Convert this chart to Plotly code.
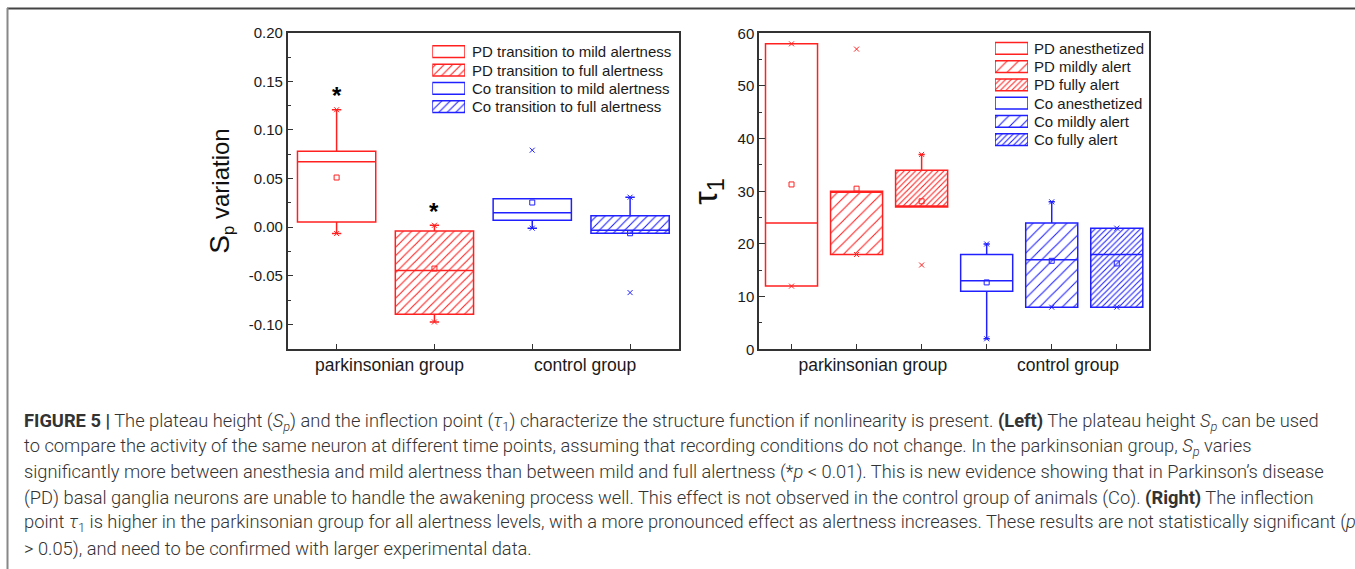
import plotly.graph_objects as go

W, H = 1355, 569
FONT = "Arial, Liberation Sans, sans-serif"

# ---------------- Left panel: S_p variation ----------------
sp_pos = [1, 2, 3, 4]
sp_names = ["PD transition to mild alertness", "PD transition to full alertness",
            "Co transition to mild alertness", "Co transition to full alertness"]
sp_colors = ["#ff2020", "#ff2020", "#2020ff", "#2020ff"]
sp_hatch = ["", "/", "", "/"]
sp_hatch_size = [6, 6, 6, 6]
sp_q1 = [0.0055, -0.0895, 0.0072, -0.0062]
sp_median = [0.0672, -0.0446, 0.0148, -0.0031]
sp_q3 = [0.0782, -0.0038, 0.0292, 0.0117]
sp_lower = [-0.0065, -0.0974, -0.0010, -0.0062]
sp_upper = [0.1208, 0.0020, 0.0292, 0.0309]
sp_mean = [0.0511, -0.0425, 0.0254, -0.0062]
sp_max = [0.1208, 0.0020, 0.0792, 0.0309]
sp_min = [-0.0065, -0.0974, -0.0010, -0.0672]
sp_star = [True, True, False, False]
sp_group_pos = [1.54, 3.54]
sp_group_labels = ["parkinsonian group", "control group"]
sp_ytick_vals = [-0.10, -0.05, 0.00, 0.05, 0.10, 0.15, 0.20]
sp_ytick_text = ["-0.10", "-0.05", "0.00", "0.05", "0.10", "0.15", "0.20"]

# ---------------- Right panel: tau_1 ----------------
tau_pos = [1, 2, 3, 4, 5, 6]
tau_names = ["PD anesthetized", "PD mildly alert", "PD fully alert",
             "Co anesthetized", "Co mildly alert", "Co fully alert"]
tau_colors = ["#ff2020", "#ff2020", "#ff2020", "#2020ff", "#2020ff", "#2020ff"]
tau_hatch = ["", "/", "/", "", "/", "/"]
tau_hatch_size = [8, 8, 4, 8, 8, 4]
tau_q1 = [12, 18, 27, 11, 8, 8]
tau_median = [24, 30, 27, 13, 17, 18]
tau_q3 = [58, 30, 34, 18, 24, 23]
tau_lower = [12, 18, 27, 2, 8, 8]
tau_upper = [58, 30, 37, 20, 28, 23]
tau_mean = [31.3, 30.5, 28.1, 12.7, 16.8, 16.3]
tau_max = [58, 57, 37, 20, 28, 23]
tau_min = [12, 18, 16, 2, 8, 8]
tau_group_pos = [2.25, 5.25]
tau_group_labels = ["parkinsonian group", "control group"]
tau_ytick_vals = [0, 10, 20, 30, 40, 50, 60]

caption_lines = [
    "<b>FIGURE 5 |</b> The plateau height (<i>S<sub>p</sub></i>) and the inflection point (<i>τ</i><sub>1</sub>) "
    "characterize the structure function if nonlinearity is present. <b>(Left)</b> The plateau height "
    "<i>S<sub>p</sub></i> can be used",
    "to compare the activity of the same neuron at different time points, assuming that recording conditions "
    "do not change. In the parkinsonian group, <i>S<sub>p</sub></i> varies",
    "significantly more between anesthesia and mild alertness than between mild and full alertness "
    "(*<i>p</i> &lt; 0.01). This is new evidence showing that in Parkinson’s disease",
    "(PD) basal ganglia neurons are unable to handle the awakening process well. This effect is not observed "
    "in the control group of animals (Co). <b>(Right)</b> The inflection",
    "point <i>τ</i><sub>1</sub> is higher in the parkinsonian group for all alertness levels, with a more "
    "pronounced effect as alertness increases. These results are not statistically significant (<i>p</i>",
    "&gt; 0.05), and need to be confirmed with larger experimental data.",
]


def px_x(x):
    return x / W


def px_y(y):
    return 1 - y / H


def pattern_for(color, shape, size):
    if not shape:
        return dict(shape="")
    return dict(shape=shape, size=size, solidity=min(0.35, 1.1 / size),
                fgcolor=color, bgcolor="white", fillmode="replace")


fig = go.Figure()


def add_panel(pos, q1, med, q3, lo, hi, mean, mn, mx, colors, hatch, hsize, xa, ya):
    for i in range(len(pos)):
        c = colors[i]
        fig.add_trace(go.Bar(
            x=[pos[i]], y=[q3[i] - q1[i]], base=[q1[i]], width=0.8,
            marker=dict(color=c if hatch[i] else "rgba(0,0,0,0)",
                        line=dict(width=0),
                        pattern=pattern_for(c, hatch[i], hsize[i])),
            xaxis=xa, yaxis=ya, showlegend=False, hoverinfo="skip"))
        fig.add_trace(go.Box(
            x=[pos[i]], q1=[q1[i]], median=[med[i]], q3=[q3[i]],
            lowerfence=[lo[i]], upperfence=[hi[i]],
            width=0.8, whiskerwidth=0.12, boxpoints=False,
            line=dict(color=c, width=1.5), fillcolor="rgba(0,0,0,0)",
            xaxis=xa, yaxis=ya, showlegend=False, hoverinfo="skip"))
    fig.add_trace(go.Scatter(
        x=pos, y=mean, mode="markers",
        marker=dict(symbol="square-open", size=5, color=colors, line=dict(width=1, color=colors)),
        xaxis=xa, yaxis=ya, showlegend=False, hoverinfo="skip"))
    fig.add_trace(go.Scatter(
        x=list(pos) + list(pos), y=list(mx) + list(mn), mode="markers",
        marker=dict(symbol="x-thin", size=5, color=list(colors) * 2,
                    line=dict(width=1, color=list(colors) * 2)),
        xaxis=xa, yaxis=ya, showlegend=False, hoverinfo="skip"))


def add_legend(names, colors, hatch, hsize, xa, ya, text_x):
    for i, name in enumerate(names):
        c = colors[i]
        fig.add_trace(go.Bar(
            y=[i], x=[1], base=[0], orientation="h", width=0.64,
            marker=dict(color=c if hatch[i] else "white",
                        line=dict(width=1.5, color=c),
                        pattern=pattern_for(c, hatch[i], hsize[i])),
            xaxis=xa, yaxis=ya, showlegend=False, hoverinfo="skip"))
        fig.add_annotation(text=name, x=px_x(text_x), xref="paper", xanchor="left",
                           y=i, yref=ya, yanchor="middle", showarrow=False,
                           font=dict(family=FONT, size=15, color="#1a1a1a"))


add_panel(sp_pos, sp_q1, sp_median, sp_q3, sp_lower, sp_upper, sp_mean, sp_min, sp_max,
          sp_colors, sp_hatch, sp_hatch_size, "x", "y")
add_panel(tau_pos, tau_q1, tau_median, tau_q3, tau_lower, tau_upper, tau_mean, tau_min, tau_max,
          tau_colors, tau_hatch, tau_hatch_size, "x2", "y2")
add_legend(sp_names, sp_colors, sp_hatch, sp_hatch_size, "x3", "y3", 470)
add_legend(tau_names, tau_colors, tau_hatch, tau_hatch_size, "x4", "y4", 1032)

# significance stars
for i, s in enumerate(sp_star):
    if s:
        fig.add_annotation(text="<b>*</b>", x=sp_pos[i], y=sp_upper[i], xref="x", yref="y",
                           yanchor="middle", yshift=14, showarrow=False,
                           font=dict(family=FONT, size=24, color="black"))

# caption
for k, line in enumerate(caption_lines):
    fig.add_annotation(text=line, x=px_x(22), xref="paper", xanchor="left",
                       y=px_y(421.7 + 25.4 * k), yref="paper", yanchor="middle",
                       showarrow=False, align="left",
                       font=dict(family="Roboto, sans-serif", size=18.3, color="#333333",
                                 weight=300))

axis_common = dict(showline=True, linecolor="#333333", linewidth=1.5, mirror=True,
                   showgrid=False, zeroline=False, type="linear", automargin=False,
                   tickfont=dict(family=FONT, size=15, color="#1a1a1a"))

xlab_font = dict(family=FONT, size=17.5, color="#1a1a1a")

fig.update_layout(
    template="none",
    width=W, height=H, margin=dict(l=0, r=0, t=0, b=0, pad=0), autosize=False,
    paper_bgcolor="white", plot_bgcolor="white",
    barmode="overlay", boxmode="overlay", showlegend=False,
    xaxis=dict(axis_common, domain=[px_x(287.7), px_x(679)], range=[0.5, 4.5], anchor="y",
               tickmode="array", tickvals=sp_group_pos, ticktext=sp_group_labels, ticks="",
               tickfont=xlab_font, ticklabelstandoff=-1,
               minor=dict(tickmode="array", tickvals=sp_pos, ticks="inside", ticklen=6,
                          tickwidth=1.2, tickcolor="#333333")),
    yaxis=dict(axis_common, domain=[px_y(349.3), px_y(32.7)], range=[-0.1255, 0.20], anchor="x",
               tickmode="array", tickvals=sp_ytick_vals, ticktext=sp_ytick_text,
               ticks="inside", ticklen=6, tickwidth=1.2, tickcolor="#333333",
               minor=dict(tickmode="linear", tick0=0, dtick=0.025, ticks="inside", ticklen=3.5,
                          tickwidth=1.2, tickcolor="#333333"),
               title=dict(text="<span style='font-size:28px'>S</span><sub>p</sub> variation",
                          font=dict(family=FONT, size=24, color="#111111"), standoff=12)),
    xaxis2=dict(axis_common, domain=[px_x(759), px_x(1149.3)], range=[0.5, 6.5], anchor="y2",
                tickmode="array", tickvals=tau_group_pos, ticktext=tau_group_labels, ticks="",
                tickfont=xlab_font, ticklabelstandoff=-1,
                minor=dict(tickmode="array", tickvals=tau_pos, ticks="inside", ticklen=6,
                           tickwidth=1.2, tickcolor="#333333")),
    yaxis2=dict(axis_common, domain=[px_y(349.3), px_y(33.3)], range=[0, 60], anchor="x2",
                tickmode="array", tickvals=tau_ytick_vals,
                ticks="inside", ticklen=6, tickwidth=1.2, tickcolor="#333333",
                minor=dict(tickmode="linear", tick0=0, dtick=5, ticks="inside", ticklen=3.5,
                           tickwidth=1.2, tickcolor="#333333"),
                title=dict(text="τ<sub>1</sub>",
                           font=dict(family=FONT, size=34, color="#111111"), standoff=10)),
    xaxis3=dict(domain=[px_x(432.3), px_x(465)], range=[0, 1], visible=False, anchor="y3",
                automargin=False),
    yaxis3=dict(domain=[px_y(115.9), px_y(42.5)], range=[3.5, -0.5], visible=False, anchor="x3",
                automargin=False),
    xaxis4=dict(domain=[px_x(995), px_x(1028)], range=[0, 1], visible=False, anchor="y4",
                automargin=False),
    yaxis4=dict(domain=[px_y(148.8), px_y(39.2)], range=[5.5, -0.5], visible=False, anchor="x4",
                automargin=False),
    shapes=[
        dict(type="line", xref="paper", yref="paper", x0=px_x(7), x1=1, y0=px_y(8.5), y1=px_y(8.5),
             line=dict(color="#444444", width=2)),
        dict(type="line", xref="paper", yref="paper", x0=px_x(7.5), x1=px_x(7.5), y0=0, y1=px_y(8),
             line=dict(color="#888888", width=2)),
    ],
)

fig.write_html("out.html")
